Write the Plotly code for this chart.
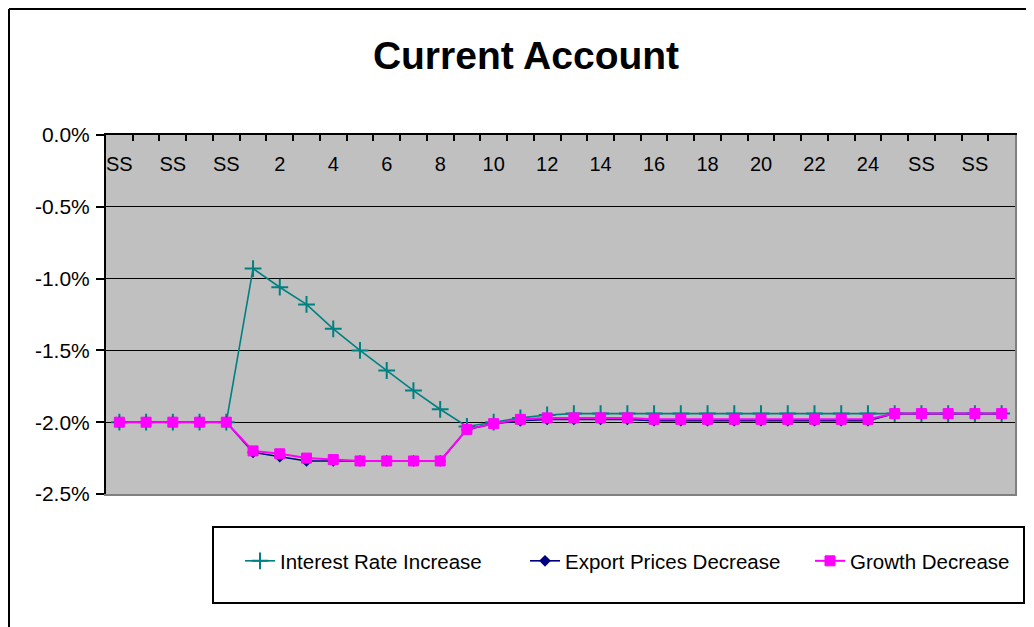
import plotly.graph_objects as go

# ---- data -------------------------------------------------------------
categories = ["SS", "SS", "SS", "SS", "SS",
              "1", "2", "3", "4", "5", "6", "7", "8", "9", "10", "11", "12",
              "13", "14", "15", "16", "17", "18", "19", "20", "21", "22", "23", "24",
              "SS", "SS", "SS", "SS", "SS"]

interest_rate_increase = [-2.00, -2.00, -2.00, -2.00, -2.00,
                          -0.93, -1.06, -1.18, -1.35, -1.50, -1.64, -1.78, -1.91,
                          -2.03, -2.00, -1.97, -1.95, -1.94, -1.94, -1.94, -1.94,
                          -1.94, -1.94, -1.94, -1.94, -1.94, -1.94, -1.94, -1.94,
                          -1.94, -1.94, -1.94, -1.94, -1.94]

export_prices_decrease = [-2.00, -2.00, -2.00, -2.00, -2.00,
                          -2.21, -2.24, -2.27, -2.27, -2.27, -2.27, -2.27, -2.27,
                          -2.05, -2.01, -1.99, -1.98, -1.98, -1.98, -1.98, -1.99,
                          -1.99, -1.99, -1.99, -1.99, -1.99, -1.99, -1.99, -1.99,
                          -1.94, -1.94, -1.94, -1.94, -1.94]

growth_decrease = [-2.00, -2.00, -2.00, -2.00, -2.00,
                   -2.20, -2.22, -2.25, -2.26, -2.27, -2.27, -2.27, -2.27,
                   -2.05, -2.01, -1.98, -1.97, -1.97, -1.97, -1.97, -1.98,
                   -1.98, -1.98, -1.98, -1.98, -1.98, -1.98, -1.98, -1.98,
                   -1.94, -1.94, -1.94, -1.94, -1.94]

y_tick_values = [0.0, -0.5, -1.0, -1.5, -2.0, -2.5]
y_tick_labels = ["0.0%", "-0.5%", "-1.0%", "-1.5%", "-2.0%", "-2.5%"]

# ---- figure -----------------------------------------------------------
FONT = "Liberation Sans, Arial, sans-serif"
OFF = 8                      # page body margin of the html output
W, H = 1034 - OFF, 627 - OFF
# plot area in screen pixels: x 106..1015, y 135..494
L, T = 106 - OFF, 135 - OFF
R = W - (1015 - OFF)
B = H - (494 - OFF)
pw, ph = W - L - R, H - T - B

x_idx = list(range(len(categories)))
label_idx = x_idx[::2]
label_txt = [categories[i] for i in label_idx]


def px_x(p):
    """screen x pixel -> paper coordinate"""
    return (p - OFF - L) / pw


def px_y(p):
    """screen y pixel -> paper coordinate"""
    return (H - B - (p - OFF)) / ph


fig = go.Figure()

fig.add_trace(go.Scatter(
    x=x_idx, y=interest_rate_increase, name="Interest Rate Increase",
    mode="lines+markers", xaxis="x", yaxis="y",
    line=dict(color="#008080", width=1.6),
    marker=dict(symbol="cross-thin", size=12, line=dict(color="#008080", width=2)),
))
fig.add_trace(go.Scatter(
    x=x_idx, y=export_prices_decrease, name="Export Prices Decrease",
    mode="lines+markers", xaxis="x2", yaxis="y",
    line=dict(color="#000080", width=1.6),
    marker=dict(symbol="diamond", size=9, color="#000080"),
))
fig.add_trace(go.Scatter(
    x=x_idx, y=growth_decrease, name="Growth Decrease",
    mode="lines+markers", xaxis="x3", yaxis="y2",
    line=dict(color="#FF00FF", width=2),
    marker=dict(symbol="square", size=10, color="#FF00FF",
                line=dict(color="#FF00FF", width=1)),
))

xr = [-0.5, len(categories) - 0.5]
fig.update_layout(
    width=W, height=H,
    margin=dict(l=L, r=R, t=T, b=B, autoexpand=False),
    paper_bgcolor="white",
    plot_bgcolor="#C0C0C0",
    font=dict(family=FONT, size=19, color="black"),
    title=dict(text="<b>Current Account</b>", font=dict(family=FONT, size=39, color="black"),
               x=(526 - OFF) / W, xanchor="center", xref="container",
               y=1 - (55 - OFF) / H, yanchor="middle", yref="container"),
    xaxis=dict(range=xr, showline=True, linecolor="#808080", linewidth=2,
               showticklabels=False, ticks="", showgrid=False, zeroline=False),
    xaxis2=dict(overlaying="x", matches="x", side="top", range=xr,
                showline=True, linecolor="black", linewidth=2,
                tickmode="linear", tick0=0.5, dtick=1, ticks="inside",
                ticklen=6, tickwidth=2, tickcolor="black",
                showticklabels=False, showgrid=False, zeroline=False),
    xaxis3=dict(overlaying="x", matches="x", side="top", range=xr,
                showline=False, tickmode="array", tickvals=label_idx, ticktext=label_txt,
                ticks="", ticklabelposition="inside", ticklabelstandoff=19,
                tickfont=dict(family=FONT, size=20, color="black"),
                showgrid=False, zeroline=False),
    yaxis=dict(range=[-2.5, 0], tickmode="array", tickvals=y_tick_values,
               ticktext=y_tick_labels, ticks="outside", ticklen=8, tickwidth=2,
               tickcolor="black", ticklabelstandoff=2,
               showline=True, linecolor="black", linewidth=2,
               showgrid=True, gridcolor="black", gridwidth=1, zeroline=False,
               tickfont=dict(family=FONT, size=21, color="black")),
    yaxis2=dict(overlaying="y", matches="y", side="right", range=[-2.5, 0],
                showline=True, linecolor="#808080", linewidth=2,
                showticklabels=False, ticks="", showgrid=False, zeroline=False),
    showlegend=True,
    legend=dict(orientation="h", x=px_x(240), xanchor="left",
                y=px_y(561), yanchor="middle",
                bgcolor="rgba(0,0,0,0)", borderwidth=0,
                font=dict(family=FONT, size=20.5, color="black"),
                entrywidth=240, entrywidthmode="pixels"),
    shapes=[
        # legend frame
        dict(type="rect", xref="paper", yref="paper",
             x0=px_x(213), x1=px_x(1024), y0=px_y(603), y1=px_y(527),
             line=dict(color="black", width=2), fillcolor="rgba(0,0,0,0)", layer="below"),
        # outer chart frame (left and top edges)
        dict(type="line", xref="paper", yref="paper",
             x0=px_x(9), x1=px_x(9), y0=px_y(9), y1=px_y(640),
             line=dict(color="black", width=2)),
        dict(type="line", xref="paper", yref="paper",
             x0=px_x(9), x1=px_x(1040), y0=px_y(9), y1=px_y(9),
             line=dict(color="black", width=2)),
    ],
)

fig.write_html("out.html")
